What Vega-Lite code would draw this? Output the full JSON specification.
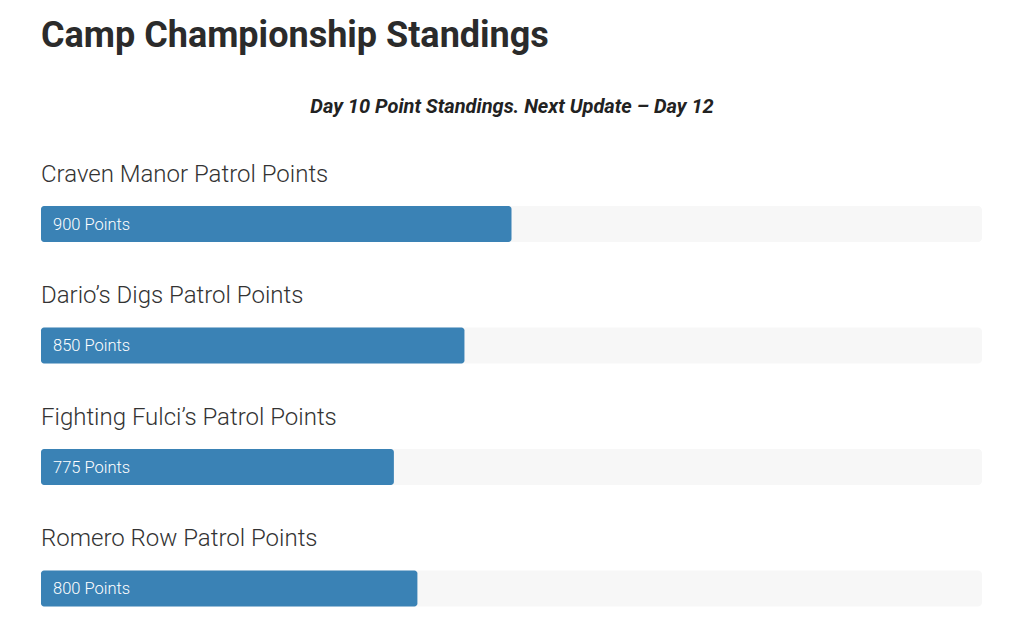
{
  "$schema": "https://vega.github.io/schema/vega-lite/v6.json",
  "width": 941,
  "height": 486,
  "padding": {"left": 41, "right": 42, "top": 18, "bottom": 8},
  "background": "#ffffff",
  "title": {
    "text": "Camp Championship Standings",
    "anchor": "start",
    "frame": "bounds",
    "font": "Roboto",
    "fontSize": 36,
    "fontWeight": "bold",
    "color": "#2b2b2b",
    "offset": 41
  },
  "config": {"view": {"stroke": null}, "font": "Roboto"},
  "data": {
    "values": [
      {"team": "Craven Manor", "title": "Craven Manor Patrol Points", "points": 900, "label": "900 Points"},
      {"team": "Dario’s Digs", "title": "Dario’s Digs Patrol Points", "points": 850, "label": "850 Points"},
      {"team": "Fighting Fulci’s", "title": "Fighting Fulci’s Patrol Points", "points": 775, "label": "775 Points"},
      {"team": "Romero Row", "title": "Romero Row Patrol Points", "points": 800, "label": "800 Points"}
    ]
  },
  "encoding": {
    "y": {
      "field": "team",
      "type": "nominal",
      "sort": null,
      "scale": {"paddingInner": 0, "paddingOuter": 0},
      "axis": null
    }
  },
  "layer": [
    {
      "mark": {"type": "bar", "height": 36, "yOffset": 42.25, "cornerRadius": 4, "color": "#f7f7f7"},
      "encoding": {
        "x": {
          "datum": 1400,
          "type": "quantitative",
          "scale": {"domain": [400, 1400], "zero": false, "nice": false},
          "axis": {
            "orient": "top",
            "domain": false,
            "ticks": false,
            "labels": false,
            "grid": false,
            "title": "Day 10 Point Standings. Next Update – Day 12",
            "titleFont": "Roboto",
            "titleFontSize": 20,
            "titleFontStyle": "italic",
            "titleFontWeight": "bold",
            "titleColor": "#222222",
            "titlePadding": 5
          }
        },
        "x2": {"datum": 400}
      }
    },
    {
      "mark": {"type": "bar", "height": 36, "yOffset": 42.25, "cornerRadius": 3, "color": "#3a82b5"},
      "encoding": {
        "x": {"field": "points", "type": "quantitative"},
        "x2": {"datum": 400}
      }
    },
    {
      "mark": {"type": "text", "align": "left", "baseline": "middle", "dx": 12, "yOffset": 42.75, "font": "Roboto", "fontWeight": 300, "fontSize": 16.5, "color": "#ffffff"},
      "encoding": {
        "x": {"datum": 400, "type": "quantitative"},
        "text": {"field": "label"}
      }
    },
    {
      "mark": {"type": "text", "align": "left", "baseline": "alphabetic", "yOffset": 0, "font": "Roboto", "fontWeight": 300, "fontSize": 24, "color": "#333333"},
      "encoding": {
        "x": {"datum": 400, "type": "quantitative"},
        "text": {"field": "title"}
      }
    }
  ]
}
